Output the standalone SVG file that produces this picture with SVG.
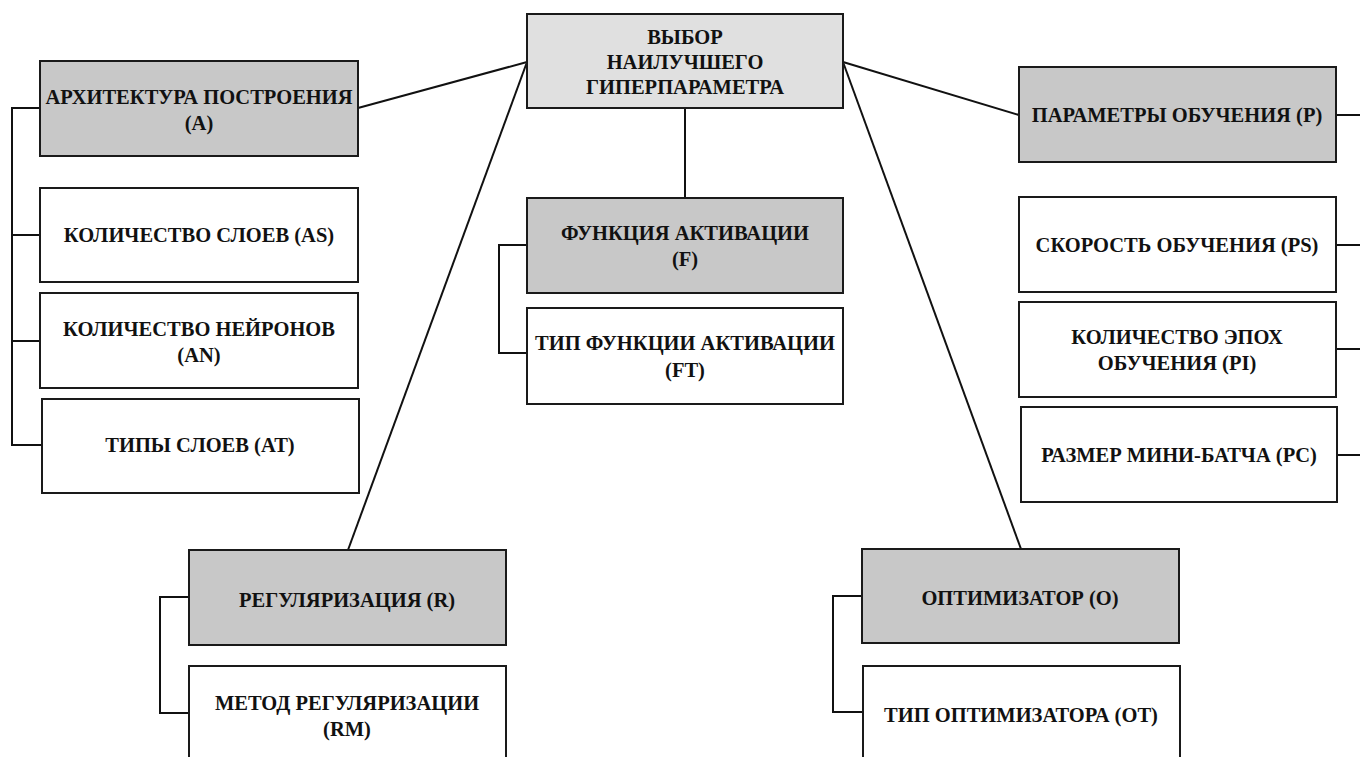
<svg xmlns="http://www.w3.org/2000/svg" width="1360" height="757" viewBox="0 0 1360 757">
<style>
.box{stroke:#1a1a1a;stroke-width:2}
.main{fill:#c8c8c8}
.root{fill:#e0e0e0}
.leaf{fill:#ffffff}
.t{font-family:"Liberation Serif","Times New Roman","DejaVu Serif",serif;font-weight:bold;font-size:20.5px;fill:#111;text-anchor:middle}
.c{stroke:#111;stroke-width:2;fill:none}
</style>
<rect width="1360" height="757" fill="#fff"/>
<g id="connectors">
<line class="c" x1="527" y1="62" x2="358" y2="108"/>
<line class="c" x1="527" y1="62" x2="348" y2="550"/>
<line class="c" x1="843" y1="62" x2="1019" y2="115"/>
<line class="c" x1="843" y1="62" x2="1021" y2="549"/>
<line class="c" x1="685" y1="108" x2="685" y2="198"/>
<polyline class="c" points="40,108 12,108 12,445 42,445"/>
<line class="c" x1="12" y1="235" x2="40" y2="235"/>
<line class="c" x1="12" y1="341" x2="40" y2="341"/>
<polyline class="c" points="527,245 499,245 499,353 527,353"/>
<polyline class="c" points="189,597 160,597 160,713 189,713"/>
<polyline class="c" points="862,596 833,596 833,712 863,712"/>
<line class="c" x1="1336" y1="115" x2="1360" y2="115"/>
<line class="c" x1="1336" y1="245" x2="1360" y2="245"/>
<line class="c" x1="1336" y1="349" x2="1360" y2="349"/>
<line class="c" x1="1337" y1="455" x2="1360" y2="455"/>
</g>
<g id="root">
<rect class="box root" x="527" y="14" width="316" height="94"/>
<text class="t" x="685" y="44">ВЫБОР</text>
<text class="t" x="685" y="69">НАИЛУЧШЕГО</text>
<text class="t" x="685" y="94">ГИПЕРПАРАМЕТРА</text>
</g>
<g id="node-A">
<rect class="box main" x="40" y="61" width="318" height="95"/>
<text class="t" x="199" y="104">АРХИТЕКТУРА ПОСТРОЕНИЯ</text>
<text class="t" x="199" y="130">(A)</text>
</g>
<g id="node-AS">
<rect class="box leaf" x="40" y="188" width="318" height="94"/>
<text class="t" x="199" y="242">КОЛИЧЕСТВО СЛОЕВ (AS)</text>
</g>
<g id="node-AN">
<rect class="box leaf" x="40" y="293" width="318" height="95"/>
<text class="t" x="199" y="336">КОЛИЧЕСТВО НЕЙРОНОВ</text>
<text class="t" x="199" y="362">(AN)</text>
</g>
<g id="node-AT">
<rect class="box leaf" x="42" y="399" width="317" height="94"/>
<text class="t" x="200" y="452">ТИПЫ СЛОЕВ (AT)</text>
</g>
<g id="node-F">
<rect class="box main" x="527" y="198" width="316" height="95"/>
<text class="t" x="685" y="240">ФУНКЦИЯ АКТИВАЦИИ</text>
<text class="t" x="685" y="266">(F)</text>
</g>
<g id="node-FT">
<rect class="box leaf" x="527" y="308" width="316" height="96"/>
<text class="t" x="685" y="350">ТИП ФУНКЦИИ АКТИВАЦИИ</text>
<text class="t" x="685" y="377">(FT)</text>
</g>
<g id="node-P">
<rect class="box main" x="1019" y="67" width="317" height="95"/>
<text class="t" x="1177" y="122">ПАРАМЕТРЫ ОБУЧЕНИЯ (P)</text>
</g>
<g id="node-PS">
<rect class="box leaf" x="1019" y="197" width="317" height="95"/>
<text class="t" x="1177" y="252">СКОРОСТЬ ОБУЧЕНИЯ (PS)</text>
</g>
<g id="node-PI">
<rect class="box leaf" x="1019" y="302" width="317" height="95"/>
<text class="t" x="1177" y="344">КОЛИЧЕСТВО ЭПОХ</text>
<text class="t" x="1177" y="370">ОБУЧЕНИЯ (PI)</text>
</g>
<g id="node-PC">
<rect class="box leaf" x="1021" y="407" width="316" height="95"/>
<text class="t" x="1179" y="462">РАЗМЕР МИНИ-БАТЧА (PC)</text>
</g>
<g id="node-R">
<rect class="box main" x="189" y="550" width="317" height="95"/>
<text class="t" x="347" y="607">РЕГУЛЯРИЗАЦИЯ (R)</text>
</g>
<g id="node-RM">
<rect class="box leaf" x="189" y="666" width="317" height="100"/>
<text class="t" x="347" y="710">МЕТОД РЕГУЛЯРИЗАЦИИ</text>
<text class="t" x="347" y="736">(RM)</text>
</g>
<g id="node-O">
<rect class="box main" x="862" y="549" width="317" height="94"/>
<text class="t" x="1020" y="605">ОПТИМИЗАТОР (O)</text>
</g>
<g id="node-OT">
<rect class="box leaf" x="863" y="666" width="317" height="100"/>
<text class="t" x="1021" y="722">ТИП ОПТИМИЗАТОРА (OT)</text>
</g>
</svg>
